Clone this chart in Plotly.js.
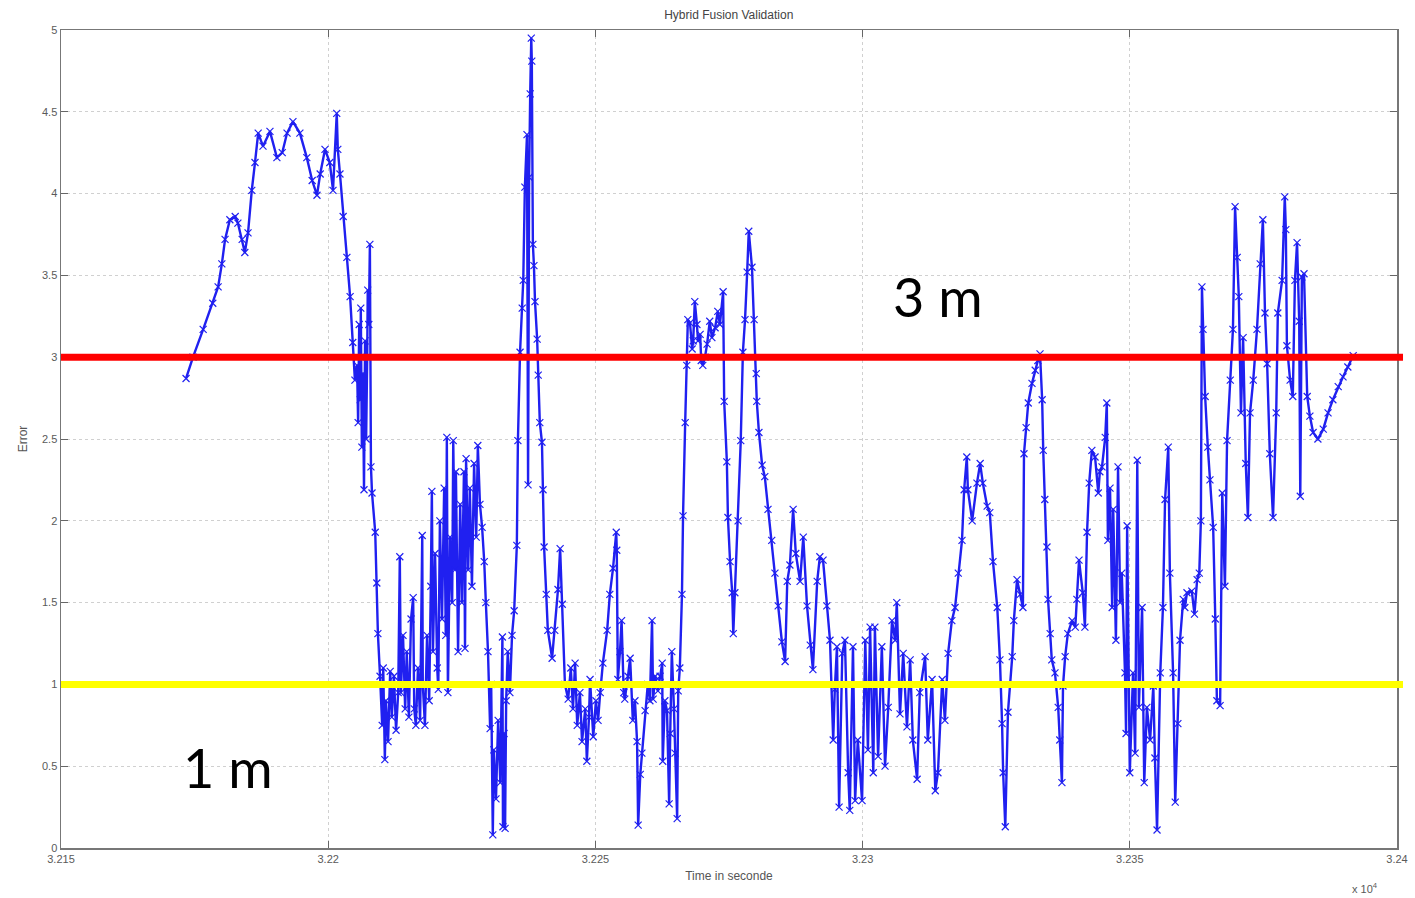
<!DOCTYPE html>
<html>
<head>
<meta charset="utf-8">
<script src="https://cdn.plot.ly/plotly-3.0.1.min.js"></script>
<style>html,body{margin:0;padding:0;background:#fff;}#chart{width:1415px;height:898px;}</style>
</head>
<body>
<div id="chart"></div>
<script>
// Time (seconds) and positioning error (m)
const timeSec = [
32173.4,32174.7,32176.6,32178.4,32179.4,32180.1,32180.7,32181.6,32182.6,32183.1,32183.9,32184.4,32185.0,32185.7,32186.3,32186.9,32187.8,32189.1,32190.4,32191.4,32192.3,32193.4,32194.7,32196.0,32197.0,32197.9,32198.5,32199.4,32200.3,32200.9,32201.6,32201.8,32202.2,32202.8,32203.5,32204.1,32204.6,32205.0,
32205.4,32205.6,32205.8,32206.0,32206.1,32206.3,32206.5,32206.7,32206.9,32207.1,32207.3,32207.4,32207.6,32207.8,32208.0,32208.2,32208.8,32209.1,32209.3,32209.7,
32210.1,32210.3,32210.6,32210.8,32211.2,32211.6,32211.9,32212.3,32212.7,32213.1,32213.4,32213.6,32214.0,32214.4,32214.7,32215.1,32215.5,32215.9,32216.1,32216.4,32216.8,32217.2,32217.6,32217.7,32218.1,32218.5,32218.9,32219.2,32219.4,32219.6,32220.0,32220.4,32220.6,32220.9,32221.3,32221.7,32222.0,32222.2,32222.4,32222.8,32223.2,32223.4,32223.7,32223.9,32224.3,32224.7,32225.0,32225.4,32225.6,32225.8,32226.2,32226.5,32226.9,32227.3,32227.7,32228.0,32228.4,32228.8,32229.2,32229.5,32229.9,32230.3,32230.5,32230.8,32231.0,32231.4,32231.8,32232.2,32232.6,32232.7,32232.9,32233.1,32233.3,32233.6,32234.0,32234.4,32234.8,32235.3,32235.5,32235.9,
32236.3,32236.5,32236.8,32237.2,32237.4,32237.6,32237.8,32238.0,32238.1,32238.3,32238.5,32238.7,32239.1,32239.3,32239.6,32240.0,32240.2,32240.4,32240.8,32241.1,32241.9,32242.4,32243.0,32243.4,32243.8,32244.3,32244.9,32245.4,32245.8,32246.2,32246.6,32247.1,32247.5,32248.1,32248.4,32248.8,32249.0,32249.6,32250.1,32250.5,32250.9,32251.4,32252.2,32252.7,32253.3,32253.9,32254.0,32254.2,32254.6,32254.9,32255.3,32255.5,32256.1,32256.5,32257.0,32257.4,32257.8,32258.0,32258.4,32258.7,32259.3,32259.8,32260.2,32260.6,32260.8,32261.2,32261.7,32262.1,32262.5,32262.6,32263.0,32263.4,32263.8,32264.0,32264.3,32264.7,32264.9,32265.3,32265.5,32265.8,32266.2,32266.4,32266.8,
32267.1,32267.3,32267.7,32268.1,32268.3,32268.6,32269.0,32269.2,32269.6,32269.8,32270.1,32270.5,32270.9,32271.4,32271.8,32272.4,32272.9,32273.3,32273.9,32274.1,32274.6,32274.8,32275.2,32275.6,32275.8,32276.1,32276.7,32277.2,32277.6,32278.0,32278.4,32278.7,32279.3,32279.7,32280.1,32280.2,32280.6,32281.2,32281.7,32282.3,32283.0,32283.6,32284.2,32284.9,32285.5,32285.9,32286.4,32287.0,32287.5,32288.3,32288.9,32289.6,32290.2,32290.7,32291.5,32292.0,32292.6,32293.3,
32293.9,32294.5,32294.8,32295.2,32295.6,32296.2,32296.7,32297.3,32297.6,32298.2,32298.6,32299.1,32299.9,32300.5,32301.0,32301.4,32302.0,32302.3,32302.9,32303.6,32304.2,32304.8,32305.5,32306.1,32306.4,32307.0,32307.6,32308.3,32308.9,32309.4,32310.2,32310.7,32311.7,32312.2,32313.0,32313.6,32314.1,32314.9,32315.4,32316.0,32316.7,32317.3,32317.9,32318.6,32319.0,32319.5,32319.7,32320.5,32321.4,32322.0,32322.5,32323.3,32323.8,32324.4,32325.2,32325.7,
32326.1,32326.3,32326.7,32327.2,32328.0,32328.3,32328.9,32329.5,32330.0,32330.2,32330.6,32331.0,32331.7,32332.3,32332.8,32333.2,32333.6,32333.8,32334.1,32334.5,32334.7,32335.1,32335.4,32336.0,32336.6,32336.9,32337.3,32337.5,32337.9,32338.4,32339.2,32339.8,32340.1,32340.5,32341.2,32341.6,32342.0,32342.4,32342.9,32343.5,32344.1,32344.4,32344.8,32345.4,32345.7,32345.9,32346.3,32346.7,32346.9,32347.4,32347.8,32348.2,32348.5,32349.1,32349.3,32349.5,32350.0,32350.6,32351.0,32351.4,32351.7,32352.3,32352.7,32353.2,32353.8,32354.4,32354.7,32355.1,32355.7,32356.2,32356.6,32357.2,32357.5,32358.1,32358.5,32359.0,32359.4,32360.0,32360.3,32360.7,32361.6,32362.1,32362.6,32363.0,32363.3,
32363.5,32363.7,32364.1,32364.6,32365.0,32365.6,32366.0,32366.3,32366.9,32367.3,32367.8,32368.2,32368.8,32369.3,32369.7,32370.1,32370.4,32370.8,32371.2,32371.7,32372.1,32372.5,32373.1,32373.8,32374.4,32374.9,32375.3,32375.7,32376.2,32376.8,32377.4,32377.7,32378.5,32379.0,32379.2,32379.4,32380.0,32380.5,32380.9,32381.3,32381.7,32381.9,32382.2,32382.6,32383.2,32383.7,32384.3,32385.2,32386.2,32387.1,32388.0,32389.0,32389.9,32390.8,32391.8
];
const errorM = [
2.87,3.00,3.17,3.33,3.43,3.57,3.72,3.84,3.86,3.82,3.72,3.64,3.76,4.02,4.19,4.37,4.29,4.38,4.22,4.25,4.37,4.44,4.37,4.22,4.08,3.99,4.12,4.27,4.19,4.02,4.49,4.27,4.12,3.86,3.61,3.37,3.09,2.86,
2.95,2.60,3.20,2.74,3.30,2.45,2.90,2.19,3.10,2.50,3.00,3.41,3.20,3.69,2.33,2.17,1.93,1.62,1.31,1.05,
0.75,1.10,0.54,0.90,0.65,1.08,0.80,1.05,0.72,0.95,1.78,0.95,1.30,0.85,1.20,0.80,1.40,1.53,0.85,0.75,1.10,0.78,1.91,1.00,0.75,1.30,0.90,1.60,2.18,1.20,1.80,1.10,0.97,2.00,1.40,2.20,1.30,2.51,0.95,1.90,1.50,2.49,1.70,2.30,1.20,2.10,1.50,2.30,1.22,2.38,1.70,2.20,1.60,2.35,1.90,2.46,2.10,1.96,1.75,1.50,1.20,0.73,1.00,0.08,0.60,0.30,0.78,0.40,1.29,0.13,0.70,0.12,0.90,1.20,0.95,1.30,1.45,1.85,2.49,3.03,
3.30,3.47,4.04,4.36,2.22,4.10,4.61,4.95,4.81,3.69,3.56,3.34,3.11,2.89,2.60,2.48,2.19,1.84,1.55,1.33,1.16,1.33,1.58,1.83,1.49,1.00,0.91,1.10,0.85,1.13,0.75,0.95,0.65,0.85,0.53,0.80,1.03,0.68,0.90,0.78,0.95,1.13,1.33,1.55,1.71,1.93,1.82,1.03,1.20,1.39,0.95,0.91,1.05,1.16,0.78,0.90,0.65,0.14,0.45,0.58,0.84,1.00,0.90,1.39,0.91,1.05,0.96,1.05,1.13,0.53,0.90,0.84,0.27,0.70,1.20,0.85,0.58,0.18,0.96,1.10,1.55,2.03,2.60,
2.95,3.23,3.21,3.05,3.10,3.34,3.20,3.10,3.14,2.98,2.95,3.00,3.08,3.22,3.12,3.18,3.28,3.20,3.40,2.73,2.36,2.02,1.75,1.56,1.31,1.56,2.00,2.49,3.03,3.23,3.52,3.77,3.55,3.23,2.90,2.73,2.54,2.34,2.27,2.07,1.88,1.68,1.48,1.26,1.14,1.63,1.73,2.07,1.80,1.63,1.90,1.48,1.24,1.09,1.63,1.78,1.76,1.48,
1.27,0.66,0.97,1.23,0.25,1.19,1.27,0.46,0.23,1.23,0.29,0.66,0.29,1.27,0.60,1.35,0.46,1.35,0.56,1.23,0.50,0.86,1.39,1.27,1.50,0.82,1.19,0.74,1.15,0.66,0.42,0.95,1.17,0.66,1.03,0.35,0.46,1.03,0.78,1.19,1.39,1.47,1.68,1.88,2.19,2.39,2.19,2.00,2.23,2.35,2.23,2.09,2.05,1.75,1.47,1.15,
0.76,0.46,0.13,0.83,1.17,1.39,1.64,1.55,1.47,2.41,2.57,2.72,2.84,2.92,2.98,3.02,2.74,2.43,2.13,1.84,1.52,1.31,1.15,1.07,0.86,0.66,0.40,0.99,1.17,1.31,1.39,1.35,1.52,1.76,1.56,1.35,1.93,2.23,2.43,2.39,2.17,2.30,2.33,2.51,2.72,1.88,2.20,1.47,2.07,1.27,2.33,1.50,1.68,1.07,0.70,1.97,0.46,1.07,0.58,2.37,0.86,1.47,0.40,0.86,0.66,0.99,0.55,0.11,1.07,1.47,2.13,2.45,1.68,1.07,0.28,0.76,1.27,1.52,1.47,1.56,1.57,1.43,1.64,1.68,2.00,
3.43,3.17,2.76,2.45,2.25,1.96,1.40,0.90,0.87,2.17,1.60,2.49,2.86,3.17,3.92,3.61,3.37,2.66,3.12,2.35,2.02,2.66,2.86,3.17,3.57,3.84,3.27,2.96,2.41,2.02,2.66,3.27,3.47,3.98,3.78,3.07,2.86,2.76,3.47,3.70,3.22,2.15,3.49,3.51,2.76,2.64,2.54,2.50,2.56,2.66,2.74,2.82,2.88,2.94,3.01
];

// Axis ticks
const xTickVals = [32150, 32200, 32250, 32300, 32350, 32400];
const xTickText = ['3.215', '3.22', '3.225', '3.23', '3.235', '3.24'];
const yTickVals = [0, 0.5, 1, 1.5, 2, 2.5, 3, 3.5, 4, 4.5, 5];
const yTickText = ['0', '0.5', '1', '1.5', '2', '2.5', '3', '3.5', '4', '4.5', '5'];

// Threshold lines
const thresholds = [3, 1];
const thresholdLabels = ['3 m', '1 m'];
const thresholdColors = ['#ff0000', '#ffff00'];
const labelX = [32314.1, 32181.2];
const labelY = [3.37, 0.49];

const tickFont = {family: 'Liberation Sans, Arial, sans-serif', size: 11, color: '#5a5a5a'};

const trace = {
  x: timeSec, y: errorM,
  type: 'scatter', mode: 'lines+markers',
  line: {color: '#2020f0', width: 2.4},
  marker: {symbol: 'x-thin-open', size: 7, line: {color: 'rgba(55,55,150,0.9)', width: 1.2}},
  hoverinfo: 'x+y'
};

const shapes = thresholds.map((v, i) => ({
  type: 'line', xref: 'paper', yref: 'y',
  x0: 0, x1: 1.0045, y0: v, y1: v,
  line: {color: thresholdColors[i], width: 7},
  layer: 'above'
}));

const annotations = thresholdLabels.map((t, i) => ({
  x: labelX[i], y: labelY[i], xref: 'x', yref: 'y',
  text: t, showarrow: false,
  font: {family: 'Lato, Open Sans, sans-serif', size: 54, color: '#000'},
  xanchor: 'center', yanchor: 'middle'
}));
annotations.push({
  x: (1380 - 61) / (1415 - 61 - 18), y: -(888 - 848) / (898 - 30 - 50),
  xref: 'paper', yref: 'paper', yanchor: 'middle',
  text: 'x 10<sup>4</sup>', showarrow: false,
  font: tickFont
});

const layout = {
  width: 1415, height: 898,
  margin: {l: 61, r: 18, t: 30, b: 50},
  paper_bgcolor: '#fff', plot_bgcolor: '#fff',
  showlegend: false,
  title: {text: 'Hybrid Fusion Validation', font: {family: 'Liberation Sans, Arial, sans-serif', size: 12, color: '#444'}, x: 0.515, xanchor: 'center', y: 0.983, yanchor: 'middle'},
  xaxis: {
    range: [32150, 32400], tickvals: xTickVals, ticktext: xTickText,
    ticks: 'inside', ticklen: 7, tickcolor: '#666', tickwidth: 1,
    showline: true, linecolor: '#777', linewidth: 1.5, mirror: 'ticks',
    showgrid: true, gridcolor: '#d0d0d0', griddash: 'dot', gridwidth: 1,
    zeroline: false, tickfont: tickFont, tickangle: 0,
    title: {text: 'Time in seconde', font: {family: 'Liberation Sans, Arial, sans-serif', size: 12, color: '#555'}, standoff: 8}
  },
  yaxis: {
    range: [0, 5], tickvals: yTickVals, ticktext: yTickText,
    ticks: 'inside', ticklen: 7, tickcolor: '#666', tickwidth: 1,
    showline: true, linecolor: '#777', linewidth: 1.5, mirror: 'ticks',
    showgrid: true, gridcolor: '#d0d0d0', griddash: 'dot', gridwidth: 1,
    zeroline: false, tickfont: tickFont,
    title: {text: 'Error', font: {family: 'Liberation Sans, Arial, sans-serif', size: 12, color: '#555'}, standoff: 12}
  },
  shapes: shapes,
  annotations: annotations
};

Plotly.newPlot('chart', [trace], layout, {displayModeBar: false, staticPlot: true});
</script>
</body>
</html>
